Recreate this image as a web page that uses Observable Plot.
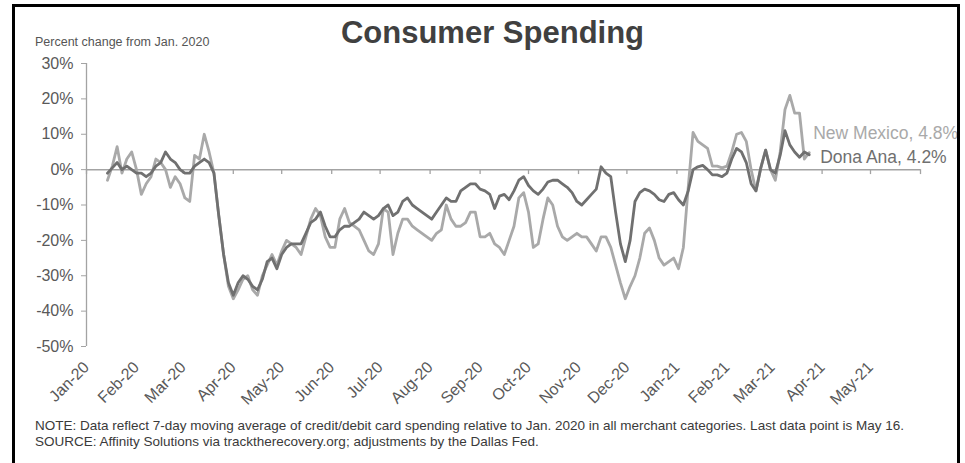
<!DOCTYPE html>
<html>
<head>
<meta charset="utf-8">
<script src="https://cdn.jsdelivr.net/npm/d3@7"></script>
<script src="https://cdn.jsdelivr.net/npm/@observablehq/plot@0.6"></script>
<style>
  html, body { margin: 0; padding: 0; background: #fff; }
  #wrap { position: relative; width: 965px; height: 463px; overflow: hidden; font-family: "Liberation Sans", Arial, sans-serif; }
  #frame { position: absolute; left: 12px; top: 4px; width: 948px; height: 480px; box-sizing: border-box; border: 3px solid #000; pointer-events: none; }
  #title { position: absolute; left: 0; width: 985px; top: 15px; text-align: center; font-size: 31px; font-weight: bold; color: #404040; }
  #subtitle { position: absolute; left: 35px; top: 35px; font-size: 12.5px; color: #555; }
  #note { position: absolute; left: 35px; top: 418px; font-size: 13.5px; line-height: 16px; color: #3a3a3a; white-space: nowrap; }
  #chart { position: absolute; left: 0; top: 0; }
</style>
</head>
<body>
<div id="wrap">
  <div id="chart"></div>
  <div id="title">Consumer Spending</div>
  <div id="subtitle">Percent change from Jan. 2020</div>
  <div id="note">NOTE: Data reflect 7-day moving average of credit/debit card spending relative to Jan. 2020 in all merchant categories. Last data point is May 16.<br>SOURCE: Affinity Solutions via tracktherecovery.org; adjustments by the Dallas Fed.</div>
  <div id="frame"></div>
</div>
<script>
const dates = [
  "2020-01-14","2020-01-17","2020-01-20","2020-01-23","2020-01-26","2020-01-29",
  "2020-02-01","2020-02-04","2020-02-07","2020-02-10","2020-02-13","2020-02-16","2020-02-19","2020-02-22","2020-02-25","2020-02-28",
  "2020-03-02","2020-03-05","2020-03-08","2020-03-11","2020-03-14","2020-03-17","2020-03-20","2020-03-23","2020-03-26","2020-03-29",
  "2020-04-01","2020-04-04","2020-04-07","2020-04-10","2020-04-13","2020-04-16","2020-04-19","2020-04-22","2020-04-25","2020-04-28",
  "2020-05-01","2020-05-04","2020-05-07","2020-05-10","2020-05-13","2020-05-16","2020-05-19","2020-05-22","2020-05-25","2020-05-28","2020-05-31",
  "2020-06-03","2020-06-06","2020-06-09","2020-06-12","2020-06-15","2020-06-18","2020-06-21","2020-06-24","2020-06-27","2020-06-30",
  "2020-07-03","2020-07-06","2020-07-09","2020-07-12","2020-07-15","2020-07-18","2020-07-21","2020-07-24","2020-07-27","2020-07-30",
  "2020-08-02","2020-08-05","2020-08-08","2020-08-11","2020-08-14","2020-08-17","2020-08-20","2020-08-23","2020-08-26","2020-08-29",
  "2020-09-01","2020-09-04","2020-09-07","2020-09-10","2020-09-13","2020-09-16","2020-09-19","2020-09-22","2020-09-25","2020-09-28",
  "2020-10-01","2020-10-04","2020-10-07","2020-10-10","2020-10-13","2020-10-16","2020-10-19","2020-10-22","2020-10-25","2020-10-28","2020-10-31",
  "2020-11-03","2020-11-06","2020-11-09","2020-11-12","2020-11-15","2020-11-18","2020-11-21","2020-11-24","2020-11-27","2020-11-30",
  "2020-12-03","2020-12-06","2020-12-09","2020-12-12","2020-12-15","2020-12-18","2020-12-21","2020-12-24","2020-12-27","2020-12-30",
  "2021-01-02","2021-01-05","2021-01-08","2021-01-11","2021-01-14","2021-01-17","2021-01-20","2021-01-23","2021-01-26","2021-01-29",
  "2021-02-01","2021-02-04","2021-02-07","2021-02-10","2021-02-13","2021-02-16","2021-02-19","2021-02-22","2021-02-25","2021-02-28",
  "2021-03-03","2021-03-06","2021-03-09","2021-03-12","2021-03-15","2021-03-18","2021-03-21","2021-03-24"
];

const newMexico = [
  -3, 1, 6.5, -1, 3, 5,
  0, -7, -4, -2, 3, 2, 0, -5, -2, -4,
  -8, -9, 4, 3, 10, 5, -1, -13, -24, -33,
  -36.5, -34, -31, -30, -34, -35.5, -30, -27, -24, -27,
  -23, -20, -21, -22, -24, -19, -14, -11, -13, -19, -22,
  -22, -14, -11, -15, -16, -17, -20, -23, -24, -21,
  -11, -12, -24, -18, -14, -14, -16, -17, -18, -19,
  -20, -18, -17, -10, -14, -16, -16, -15, -12, -12,
  -19, -19, -18, -21, -22, -24, -20, -16, -8, -6.5,
  -12, -22, -21, -14, -8, -10, -16, -19, -20, -19, -18,
  -19, -19, -21, -23, -19, -19, -22, -27, -32, -36.5,
  -33, -30, -25, -18, -16.5, -20, -25, -27, -26, -25,
  -28, -22, -5, 10.5, 8, 7, 6, 1, 1, 0.5,
  1, 5, 10, 10.5, 8, 0, -6, 0.5, 5.5, 0,
  -3, 5, 17, 21, 16, 16, 3, 4.8
];

const donaAna = [
  -1, 0.5, 2, 0, 1, 0,
  -1, -1, -2, -1, 1, 2, 5, 3, 2, 0,
  -1, -1, 1, 2, 3, 2, -1, -13, -24, -32,
  -35.5, -32, -30, -31, -33, -34, -31, -26, -25, -28,
  -24, -22, -21, -21, -21, -18, -15, -14, -12, -16, -19,
  -19, -17, -16, -16, -15, -14, -12, -13, -14, -13,
  -11, -10, -13, -12, -9, -8, -10, -11, -12, -13,
  -14, -12, -10, -8, -9, -9, -6, -5, -4, -4,
  -5.5, -6, -7, -11, -7.5, -7, -8.5, -6, -3, -2,
  -4.5, -6, -7, -5.5, -3.5, -3, -3, -4, -5, -6.5, -9,
  -10, -8.5, -7, -5.5, 0.8, -1, -2, -12, -21, -26,
  -20, -9, -6.5, -5.5, -6, -7, -8.5, -9, -7, -6.5,
  -8.5, -10, -6, 0, 0.8, 1.2, 0, -1.5, -1.5, -2,
  -1, 3, 6, 5, 2, -4, -6, 0.5, 5.5, 0,
  -1, 4, 11, 7, 5, 3.5, 5, 4.2
];

const monthTicks = [
  "2020-01-01","2020-02-01","2020-03-01","2020-04-01","2020-05-01","2020-06-01",
  "2020-07-01","2020-08-01","2020-09-01","2020-10-01","2020-11-01","2020-12-01",
  "2021-01-01","2021-02-01","2021-03-01","2021-04-01","2021-05-01","2021-06-01"
];
const labelTicks = monthTicks.slice(0, 17);
const yTicks = [-50, -40, -30, -20, -10, 0, 10, 20, 30];
const seriesLabels = ["New Mexico, 4.8%", "Dona Ana, 4.2%"];

const nmData = dates.map((d, i) => ({date: new Date(d), value: newMexico[i]}));
const daData = dates.map((d, i) => ({date: new Date(d), value: donaAna[i]}));
const tickDates = monthTicks.map(d => new Date(d));
const labelDates = labelTicks.map(d => new Date(d));
const fmt = d3.utcFormat("%b-%y");

const nmColor = "#a9a9a9";
const daColor = "#707070";
const axisColor = "#a3a3a3";
const textColor = "#595959";

const chart = Plot.plot({
  width: 965,
  height: 463,
  marginLeft: 86,
  marginRight: 45,
  marginTop: 63,
  marginBottom: 117,
  style: {fontFamily: "'Liberation Sans', Arial, sans-serif", background: "transparent", overflow: "visible"},
  x: {type: "utc", domain: [tickDates[0], tickDates[tickDates.length - 1]]},
  y: {domain: [-50, 30]},
  marks: [
    Plot.ruleX([tickDates[0]], {y1: -50, y2: 30, stroke: axisColor, strokeWidth: 1.3}),
    Plot.axisY({ticks: yTicks, tickFormat: d => `${d}%`, tickSize: 5, tickPadding: 8, stroke: axisColor, fill: textColor, fontSize: 16, label: null}),
    Plot.ruleY([0], {stroke: axisColor, strokeWidth: 1.5}),
    Plot.ruleX(tickDates, {y1: 0, y2: -1.4, stroke: axisColor, strokeWidth: 1.3}),
    Plot.axisX({ticks: labelDates, tickFormat: fmt, tickRotate: -45, tickSize: 0, tickPadding: 18, fill: textColor, fontSize: 16, label: null}),
    Plot.line(nmData, {x: "date", y: "value", stroke: nmColor, strokeWidth: 2.8, strokeLinejoin: "round"}),
    Plot.line(daData, {x: "date", y: "value", stroke: daColor, strokeWidth: 2.8, strokeLinejoin: "round"}),
    Plot.text([nmData[nmData.length - 1]], {x: "date", y: "value", text: () => seriesLabels[0], textAnchor: "start", dx: 4, dy: -19, fill: nmColor, fontSize: 17.5}),
    Plot.text([daData[daData.length - 1]], {x: "date", y: "value", text: () => seriesLabels[1], textAnchor: "start", dx: 11, dy: 3, fill: daColor, fontSize: 17.5})
  ]
});
document.getElementById("chart").appendChild(chart);
</script>
</body>
</html>
